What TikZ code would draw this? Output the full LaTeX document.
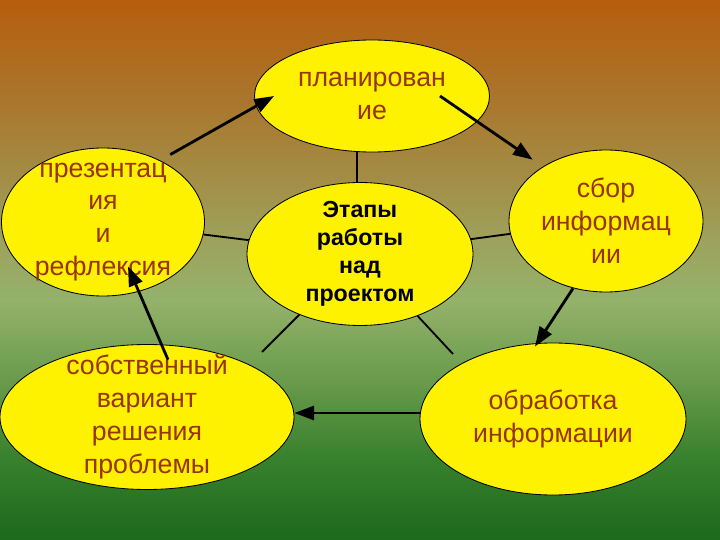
\documentclass[tikz,border=0pt]{standalone}
\usepackage{fontspec}
\setmainfont{Liberation Sans}
\usetikzlibrary{shapes.geometric,arrows.meta}
\definecolor{brickRed}{HTML}{993300}
\definecolor{bgTop}{RGB}{182,94,12}
\definecolor{bgBrown}{RGB}{170,118,45}
\definecolor{bgOlive}{RGB}{163,142,70}
\definecolor{bgKhaki}{RGB}{158,162,92}
\definecolor{bgLight}{RGB}{148,178,106}
\definecolor{bgGreen}{RGB}{105,155,75}
\definecolor{bgDeep}{RGB}{55,128,45}
\definecolor{bgBottom}{RGB}{28,105,28}
\pgfdeclareverticalshading{bgfade}{100bp}{color(0bp)=(bgBottom); color(25bp)=(bgBottom);
    color(32.4bp)=(bgDeep); color(39.8bp)=(bgGreen); color(47.2bp)=(bgLight);
    color(52.8bp)=(bgKhaki); color(58.3bp)=(bgOlive); color(65.7bp)=(bgBrown);
    color(75bp)=(bgTop); color(100bp)=(bgTop)}

\begin{document}
\begin{tikzpicture}[
    node distance=4cm,
    oval/.style={ellipse, draw, line width=0.6, fill=yellow, inner sep=0pt},
    ovaltext/.style={align=center, text=brickRed, font=\fontsize{19}{23.4}\selectfont},
    hubtext/.style={align=center, font=\fontsize{16.5}{19.8}\selectfont\bfseries},
    link/.style={line width=1.3},
    flow/.style={line width=2, -{Triangle[length=14pt, width=10pt]}}
]
    \useasboundingbox (0,0) rectangle (18,13.5);
    \shade[shading=bgfade] (0,0) rectangle (18,13.5);

    \node[oval, minimum width=5.65cm, minimum height=3.575cm, label={[hubtext]center:Этапы\\работы\\над\\проектом}] (c) at (9,7.15) {};
    \node[oval, minimum width=5.875cm, minimum height=2.8cm, label={[ovaltext]center:планирован\\ие}] (plan) [above of = c, xshift=0.3cm, yshift=-0.05cm] {};
    \node[oval, minimum width=4.85cm, minimum height=3.55cm, label={[ovaltext]center:сбор\\информац\\ии}] (sbor) [right of = c, xshift=2.15cm, yshift=0.825cm] {};
    \node[oval, minimum width=6.65cm, minimum height=3.8cm, label={[ovaltext]center:обработка\\информации}] (obr) [below of = c, xshift=4.825cm, yshift=-0.125cm] {};
    \node[oval, minimum width=7.35cm, minimum height=3.625cm, label={[ovaltext]center:собственный\\вариант\\решения\\проблемы}] (sob) [below of = c, xshift=-5.325cm, yshift=-0.075cm] {};
    \node[oval, minimum width=5.075cm, minimum height=3.7cm, label={[ovaltext]center:презентац\\ия\\и\\рефлексия}] (pres) [left of = c, xshift=-2.425cm, yshift=0.8cm] {};

    \coordinate (e1) at (6.55,4.7);
    \coordinate (e2) at (11.325,4.65);

    \draw[link] ([xshift=-0.075cm]c.north) -- ([xshift=-0.075cm]c.north |- plan.south);
    \draw[link] (pres) -- (c);
    \draw[link] (sbor) -- (c);
    \draw[link] (c) -- (e1);
    \draw[link] (c) -- (e2);

    \draw[flow] ([shift={(-0.12,0.37)}]pres.north east) -- ([xshift=0.5cm]plan.west);
    \draw[flow] ([xshift=1.7cm]plan.center) -- ([shift={(-0.11,0.27)}]sbor.north west);
    \draw[flow] ([shift={(-0.825,0.1)}]sbor.south) -- ([shift={(-0.45,-0.1)}]obr.north);
    \draw[flow] ([yshift=0.15cm]obr.west) -- ([yshift=0.15cm]obr.west -| sob.east);
    \draw[flow] ([shift={(0.525,-0.39)}]sob.north) -- ([shift={(0.625,0.75)}]pres.south);
\end{tikzpicture}
\end{document}
